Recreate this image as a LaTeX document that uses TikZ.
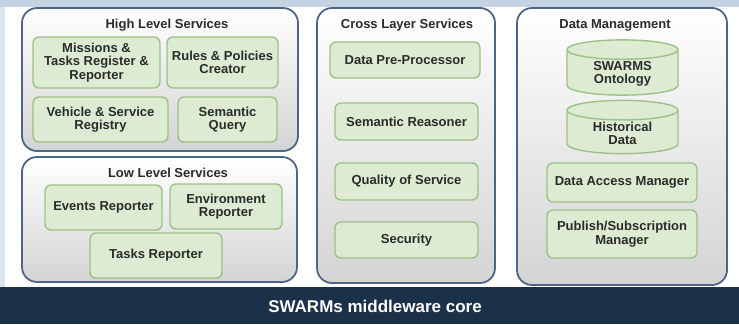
\documentclass[tikz,border=0pt]{standalone}
\usepackage{fontspec}
\setmainfont{Liberation Sans}
\usetikzlibrary{shapes.geometric}
\definecolor{topband}{HTML}{C5D2E1}
\definecolor{leftband}{HTML}{DDE6EF}
\definecolor{corebar}{HTML}{1B3049}
\definecolor{panelline}{HTML}{4E6585}
\definecolor{boxfill}{HTML}{DCEBD1}
\definecolor{boxline}{HTML}{9DC187}
\definecolor{textgray}{HTML}{2B2B2B}
\begin{document}
\begin{tikzpicture}[x=1pt,y=-1pt,line join=round,
  panel/.style={draw=panelline,line width=1.8pt,rounded corners=15pt,top color=white,bottom color=black!17,inner sep=0pt},
  paneltitle/.style={text=textgray,font=\fontsize{13}{13.5}\selectfont\bfseries},
  service/.style={draw=boxline,line width=1.4pt,fill=boxfill,rounded corners=6pt,align=center,inner sep=1pt,text=textgray,font=\fontsize{13}{13.5}\selectfont\bfseries},
  store/.style={cylinder,shape border rotate=90,aspect=0.32,anchor=shape center,draw=boxline,line width=1.4pt,fill=boxfill,align=center,inner sep=1pt,text=textgray,font=\fontsize{13}{13.5}\selectfont\bfseries}]
\useasboundingbox (0,0) rectangle (739,324);
\fill[topband] (0,0) rectangle (739,7);
\fill[leftband] (0,7) rectangle (5,287);
\fill[corebar] (0,287) rectangle (739,324);
\node[text=white,font=\fontsize{17}{19}\selectfont\bfseries] (core) at (375,306.5) {SWARMs middleware core};
\node[panel,minimum width=276,minimum height=143] (high) at (160,79.5) {};
\node[panel,minimum width=275,minimum height=125] (low) at (159.5,219.5) {};
\node[panel,minimum width=178,minimum height=275] (cross) at (406,145.5) {};
\node[panel,minimum width=210,minimum height=277] (data) at (622,146.5) {};
\node[paneltitle] (hightitle) at (167,25) {High Level Services};
\node[paneltitle] (lowtitle) at (168,173) {Low Level Services};
\node[paneltitle] (crosstitle) at (407,25) {Cross Layer Services};
\node[paneltitle] (datatitle) at (615,25) {Data Management};
\node[service,minimum width=127,minimum height=51] (missions) at (96.5,62.5) {Missions \&\\Tasks Register \&\\Reporter};
\node[service,minimum width=111,minimum height=51] (rules) at (222.5,62.5) {Rules \& Policies\\Creator};
\node[service,minimum width=135,minimum height=45] (vehicle) at (100.5,119.5) {Vehicle \& Service\\Registry};
\node[service,minimum width=99,minimum height=45] (query) at (227.5,119.5) {Semantic\\Query};
\node[service,minimum width=117,minimum height=45] (events) at (103.5,207.5) {Events Reporter};
\node[service,minimum width=112,minimum height=45] (environment) at (226,206.5) {Environment\\Reporter};
\node[service,minimum width=132,minimum height=45] (tasks) at (156,255.5) {Tasks Reporter};
\node[service,minimum width=150,minimum height=36] (preproc) at (405,60) {Data Pre-Processor};
\node[service,minimum width=143,minimum height=37] (reasoner) at (406.5,121.5) {Semantic Reasoner};
\node[service,minimum width=143,minimum height=37] (quality) at (406.5,181.5) {Quality of Service};
\node[service,minimum width=143,minimum height=36] (security) at (406.5,240) {Security};
\node[store,minimum width=111,minimum height=51] (ontology) at (622.5,67.5) {SWARMS\\Ontology};
\node[store,minimum width=111,minimum height=52] (historical) at (622.5,127) {Historical\\Data};
\node[service,minimum width=150,minimum height=39] (access) at (622,182.5) {Data Access Manager};
\node[service,minimum width=150,minimum height=48] (publish) at (622,234) {Publish/Subscription\\Manager};
\end{tikzpicture}
\end{document}
